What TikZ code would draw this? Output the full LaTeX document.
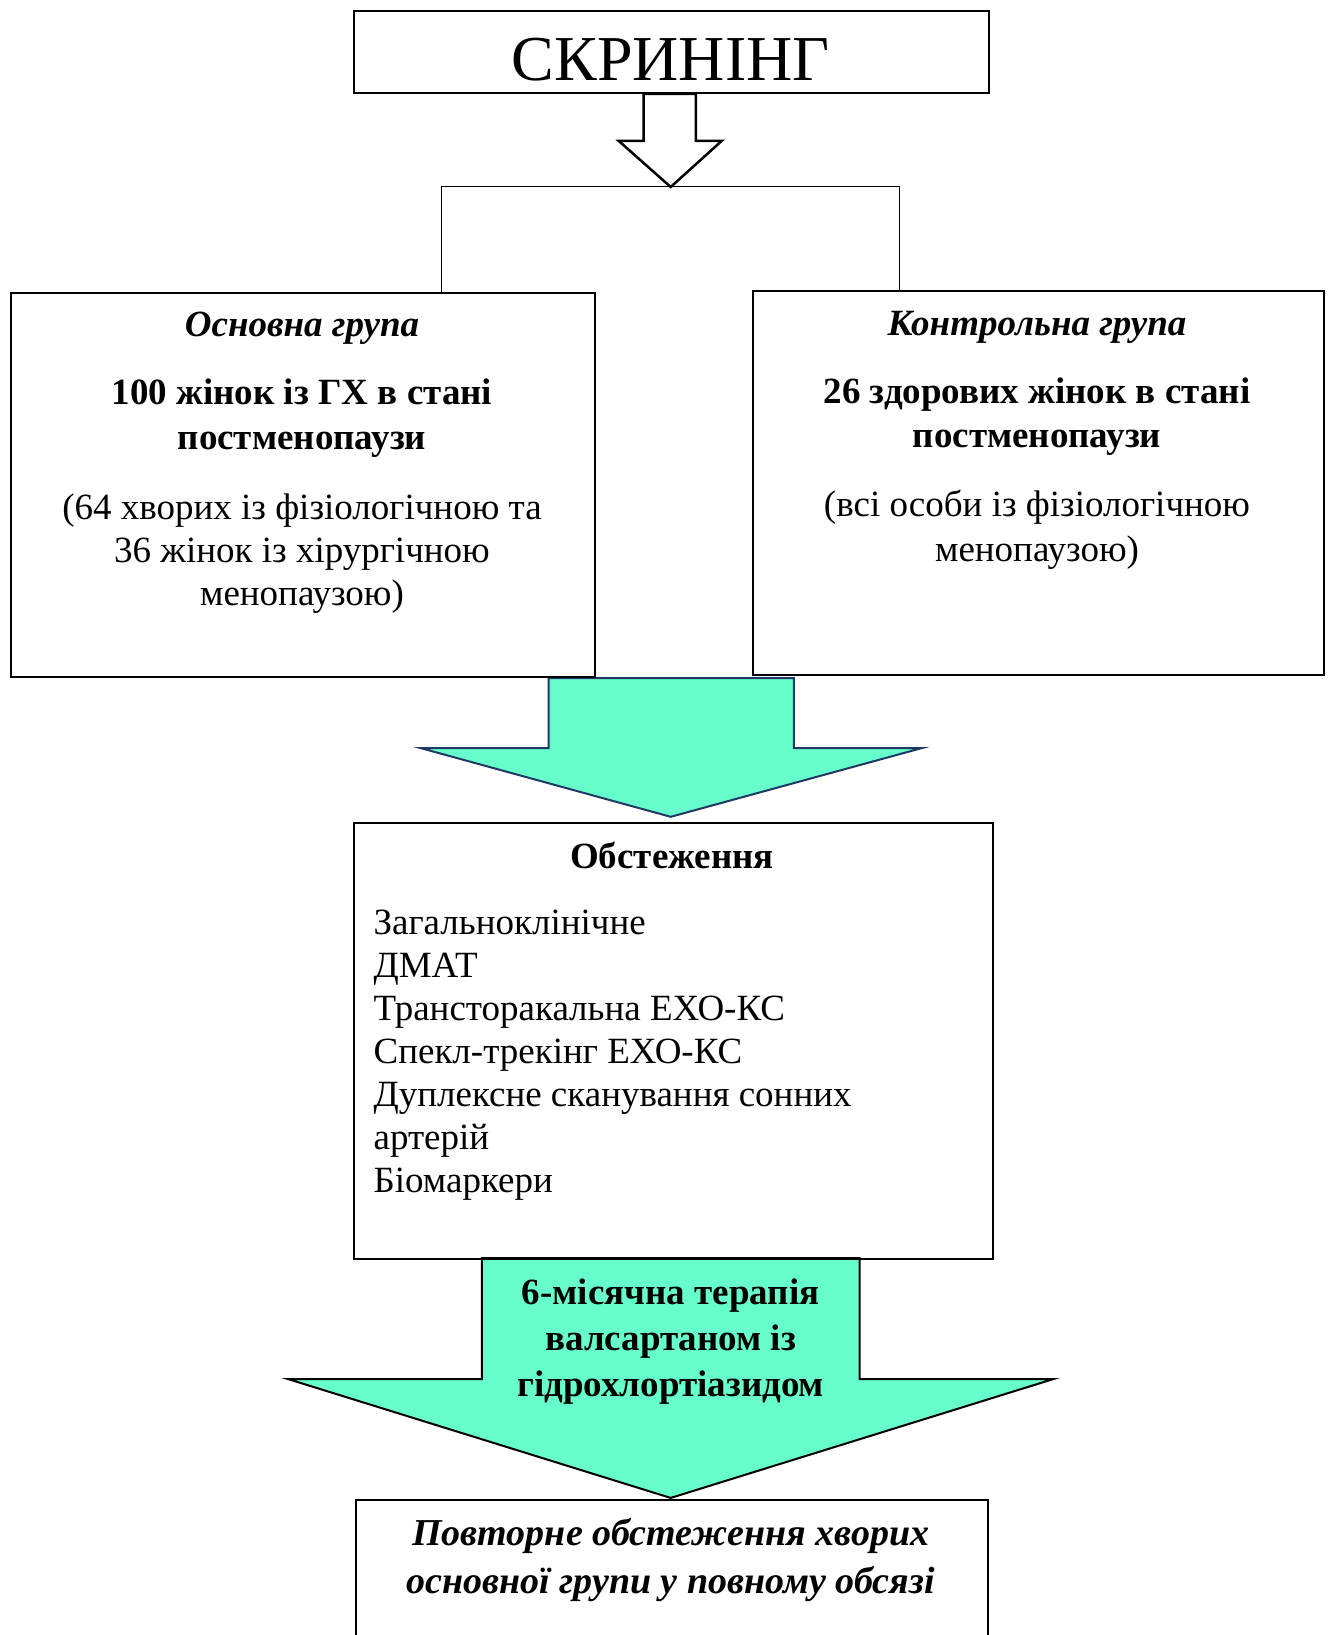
\documentclass[tikz,border=0pt]{standalone}
\usepackage{fontspec}
\setmainfont{Liberation Serif}
\definecolor{mint}{HTML}{66FFCC}
\definecolor{navy}{HTML}{1F3864}
\begin{document}
\begin{tikzpicture}[x=1pt,y=-1pt,
  frame/.style={draw, line width=2pt, inner sep=0pt, anchor=north west},
  txt/.style={anchor=base, inner sep=0pt, font=\fontsize{37}{44}\selectfont},
  txtb/.style={txt, font=\fontsize{37}{44}\selectfont\bfseries},
  txtbi/.style={txt, font=\fontsize{37}{44}\selectfont\bfseries\itshape},
  listtxt/.style={txt, anchor=base west},
  bigarrow/.style={fill=mint, line width=2pt, line join=miter}
]
\clip (0,0) rectangle (1330,1635);
\fill[white] (0,0) rectangle (1330,1635);

% arrows (drawn first, boxes on top)
\draw[line width=2.5pt, fill=white, line join=miter]
  (643.6,93.9) -- (643.6,140.8) -- (618.6,140.8) -- (670.7,187)
  -- (721.8,140.8) -- (695.8,140.8) -- (695.8,93.9) -- cycle;
\draw[bigarrow, draw=navy]
  (548.7,678) -- (548.7,748) -- (420.4,748) -- (670.7,816.8)
  -- (922.1,748) -- (793.8,748) -- (793.8,678) -- cycle;
\draw[bigarrow, draw=black]
  (481.9,1258) -- (481.9,1379) -- (287.9,1379) -- (670.7,1497.9)
  -- (1053.5,1379) -- (859.5,1379) -- (859.5,1258) -- cycle;

% boxes
\node[frame, minimum width=635.2pt, minimum height=81.4pt] (S) at (352.6,10.4) {};
\node[frame, minimum width=583.1pt, minimum height=384pt] (L) at (10.4,292) {};
\node[frame, minimum width=570.7pt, minimum height=384pt] (R) at (752,290) {};
\node[frame, minimum width=639.4pt, minimum height=436pt] (O) at (352.6,822) {};
\node[frame, minimum width=632.2pt, minimum height=300pt] (P) at (354.6,1499) {};

% bracket connector
\coordinate (brk) at (670.7,186.7);
\draw[line width=1pt] ([xshift=430.8pt]L.north west) |- (brk) -| ([xshift=147.2pt]R.north west);

% texts
\node[txt, font=\fontsize{64}{70}\selectfont] (st) at (670.7,81) {СКРИНІНГ};

\node[txtbi] (l1) at (302,336) {Основна група};
\node[txtb] (l2) at (302,404) {100 жінок із ГХ в стані};
\node[txtb] (l3) at (302,449) {постменопаузи};
\node[txt] (l4) at (302,519) {(64 хворих із фізіологічною та};
\node[txt] (l5) at (302,562) {36 жінок із хірургічною};
\node[txt] (l6) at (302,605) {менопаузою)};

\node[txtbi] (r1) at (1037,335) {Контрольна група};
\node[txtb] (r2) at (1037,403) {26 здорових жінок в стані};
\node[txtb] (r3) at (1037,447) {постменопаузи};
\node[txt] (r4) at (1037,516) {(всі особи із фізіологічною};
\node[txt] (r5) at (1037,561) {менопаузою)};

\node[txtb] (o0) at (672,868) {Обстеження};
\node[listtxt] (o1) at (373.4,934) {Загальноклінічне};
\node[listtxt] (o2) at (373.4,977.1) {ДМАТ};
\node[listtxt] (o3) at (373.4,1020.2) {Трансторакальна ЕХО-КС};
\node[listtxt] (o4) at (373.4,1063.3) {Спекл-трекінг ЕХО-КС};
\node[listtxt] (o5) at (373.4,1106.4) {Дуплексне сканування сонних};
\node[listtxt] (o6) at (373.4,1149.5) {артерій};
\node[listtxt] (o7) at (373.4,1192.6) {Біомаркери};

\node[txtb] (t1) at (670.7,1304) {6-місячна терапія};
\node[txtb] (t2) at (670.7,1350) {валсартаном із};
\node[txtb] (t3) at (670.7,1396) {гідрохлортіазидом};

\node[txtbi, font=\fontsize{38}{48}\selectfont\bfseries\itshape] (p1) at (670.7,1545) {Повторне обстеження хворих};
\node[txtbi, font=\fontsize{38}{48}\selectfont\bfseries\itshape] (p2) at (670.7,1593) {основної групи у повному обсязі};
\end{tikzpicture}
\end{document}
